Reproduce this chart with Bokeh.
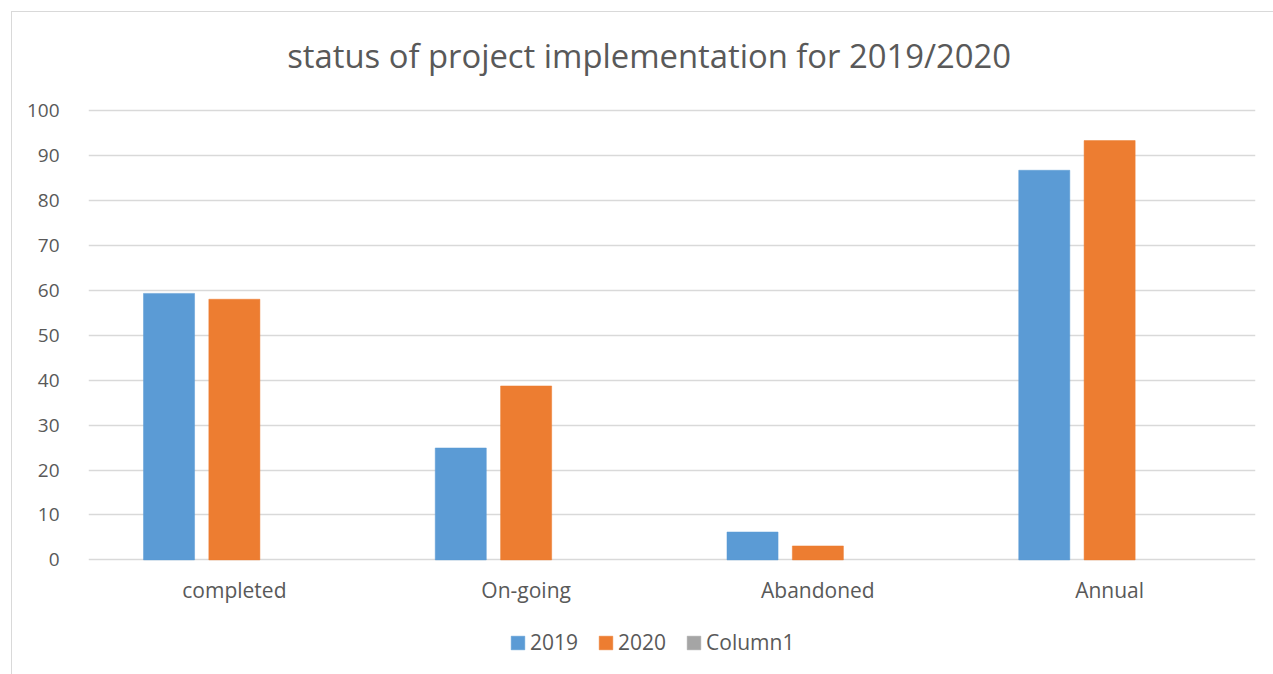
from bokeh.plotting import figure
from bokeh.models import ColumnDataSource, FactorRange, Range1d, Legend, LegendItem, FixedTicker
from bokeh.core.properties import value
from bokeh.transform import dodge
from bokeh.embed import file_html
from bokeh.resources import INLINE

title_text = "status of project implementation for 2019/2020"
categories = ["completed", "On-going", "Abandoned", "Annual"]
series_names = ["2019", "2020", "Column1"]
values_2019 = [59.3, 24.9, 6.2, 86.7]
values_2020 = [58.0, 38.7, 3.1, 93.3]
values_column1 = [None, None, None, None]
y_ticks = [0, 10, 20, 30, 40, 50, 60, 70, 80, 90, 100]
colors = ["#5B9BD5", "#ED7D31", "#A5A5A5"]

FONT = "Open Sans"
TXT = "#595959"

source = ColumnDataSource(dict(cat=categories, s2019=values_2019, s2020=values_2020,
                               c1=[float("nan") if v is None else v for v in values_column1]))

# the frame extends above 100 and below zero to hold title, category labels and legend
p = figure(width=1262, height=663, x_range=FactorRange(*categories), y_range=Range1d(-23.5, 117.8),
           output_backend="svg", toolbar_location=None,
           min_border_left=76, min_border_right=19, min_border_top=18, min_border_bottom=10)
p.styles = {"margin-left": "11px", "margin-top": "11px",
            "border-left": "1px solid #D9D9D9", "border-top": "1px solid #D9D9D9"}

offsets = [-0.224, 0.0, 0.224]
cols = ["s2019", "s2020", "c1"]
renderers = []
for off, col, c in zip(offsets, cols, colors):
    r = p.vbar(x=dodge("cat", off, range=p.x_range), top=col, width=0.175, bottom=0,
               source=source, fill_color=c, line_color=c, line_width=0.5)
    renderers.append(r)

# chart title
p.text(x=[categories[1]], y=112.2, text=[title_text], x_offset=123,
       text_align="center", text_baseline="middle",
       text_font=value(FONT), text_font_size="32.8px", text_color=TXT)

# category labels under the zero line
p.text(x=categories, y=-6.8, text=categories, text_align="center", text_baseline="middle",
       text_font=value(FONT), text_font_size="21px", text_color=TXT)

legend = Legend(items=[LegendItem(label=n, renderers=[r]) for n, r in zip(series_names, renderers)],
                orientation="horizontal", location=(421, 9),
                glyph_width=17, glyph_height=17, label_standoff=4, spacing=19,
                padding=0, margin=0, border_line_color=None, background_fill_alpha=0,
                label_text_font=FONT, label_text_font_size="21px", label_text_color=TXT,
                label_height=20)
p.add_layout(legend, "center")

p.yaxis.ticker = FixedTicker(ticks=y_ticks)
p.yaxis.axis_line_color = None
p.yaxis.major_tick_line_color = None
p.yaxis.minor_tick_line_color = None
p.yaxis.major_label_standoff = 23
p.yaxis.major_label_text_font = FONT
p.yaxis.major_label_text_font_size = "19px"
p.yaxis.major_label_text_color = TXT

p.xaxis.visible = False

p.xgrid.grid_line_color = None
p.ygrid.ticker = FixedTicker(ticks=y_ticks)
p.ygrid.grid_line_color = "#D9D9D9"
p.ygrid.grid_line_width = 1.5
p.outline_line_color = None

open("out.html", "w").write(file_html(p, INLINE))
